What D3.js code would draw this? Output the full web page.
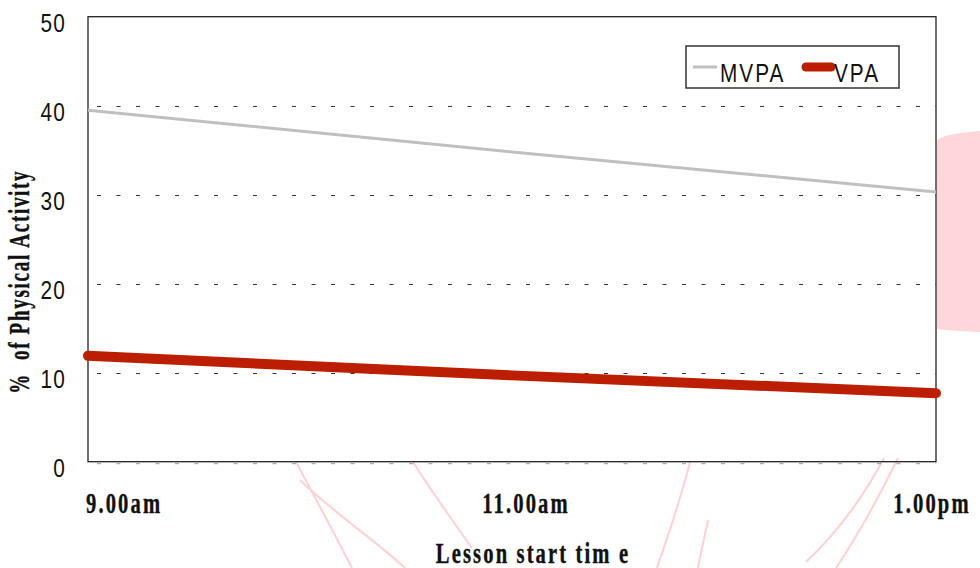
<!DOCTYPE html>
<html>
<head>
<meta charset="utf-8">
<script src="https://cdn.jsdelivr.net/npm/d3@7"></script>
<style>
  html, body { margin: 0; padding: 0; background: #ffffff; }
  svg { display: block; }
  text { white-space: pre; }
</style>
</head>
<body>
<svg id="chart" width="980" height="568"></svg>
<script>
// ---- data ----
const categories = ["9.00am", "11.00am", "1.00pm"];
const mvpaValues = [39.5, 34.8, 30.3];
const vpaValues = [11.9, 9.7, 7.7];
const yTicks = [0, 10, 20, 30, 40, 50];
const seriesNames = ["MVPA", "VPA"];
const xTitle = "Lesson start tim e";
const yTitle = "%  of Physical Activity";

const svg = d3.select("#chart");
const plot = { left: 88, right: 936, top: 16.7, bottom: 461.7 };
const SANS = "'Liberation Sans', Arial, sans-serif";
const SERIF = "'Liberation Serif', 'Times New Roman', serif";

// faint pink background watermark (decoration)
svg.append("path")
  .attr("d", "M937,140 L945,136 L960,133 L980,131 L980,332 L960,331 L945,330 L937,329 Z")
  .attr("fill", "#ffd6d9");
const deco = svg.append("g").attr("fill", "none").attr("stroke", "#ffd0d4");
[
  "M296,462 C312,492 330,525 352,568",
  "M300,480 C330,510 375,540 405,568",
  "M413,462 C432,492 452,520 472,548",
  "M690,462 C682,495 670,530 657,568",
  "M708,520 C704,540 700,555 698,568",
  "M884,458 C866,492 840,530 806,562",
  "M898,458 C880,495 858,535 836,568"
].forEach(d => deco.append("path").attr("d", d).attr("stroke-width", 2));

// scales
const x = d3.scalePoint().domain(categories).range([plot.left, plot.right]);
const y = d3.scaleLinear().domain([0, 50]).range([plot.bottom, plot.top]);

// gridlines (dotted)
svg.append("g").selectAll("line").data(yTicks.filter(t => t > 0 && t < 50)).join("line")
  .attr("x1", plot.left + 9).attr("x2", plot.right)
  .attr("y1", d => Math.round(y(d)) + 0.5).attr("y2", d => Math.round(y(d)) + 0.5)
  .attr("stroke", "#333").attr("stroke-width", 1.2)
  .attr("stroke-dasharray", "4 15.5");
svg.append("line")
  .attr("x1", plot.left + 9).attr("x2", plot.right)
  .attr("y1", y(0) + 2).attr("y2", y(0) + 2)
  .attr("stroke", "#999").attr("stroke-width", 1)
  .attr("stroke-dasharray", "4 15.5");

// frame
svg.append("rect")
  .attr("x", plot.left).attr("y", plot.top)
  .attr("width", plot.right - plot.left).attr("height", plot.bottom - plot.top)
  .attr("fill", "none").attr("stroke", "#222").attr("stroke-width", 1.3);

// y axis via d3 axis (condensed sans)
const ys = 0.8;
const yAxis = svg.append("g").attr("transform", `translate(${plot.left - 22},0)`)
  .call(d3.axisLeft(y).tickValues(yTicks).tickSize(0).tickPadding(0));
yAxis.select(".domain").remove();
yAxis.selectAll("text")
  .attr("x", 0).attr("dy", "0.57em")
  .attr("transform", `scale(${ys},1)`)
  .attr("font-family", SANS)
  .attr("font-size", 26).attr("letter-spacing", "1.5px").attr("fill", "#111");

// x axis labels (bold condensed serif)
const sx = 0.71;
const xLabelOffsets = [{ dx: -2, anchor: "start" }, { dx: 14, anchor: "middle" }, { dx: -4, anchor: "middle" }];
svg.append("g").selectAll("text").data(categories).join("text")
  .attr("transform", (d, i) => `translate(${x(d) + xLabelOffsets[i].dx},512.5) scale(${sx},1)`)
  .attr("text-anchor", (d, i) => xLabelOffsets[i].anchor)
  .attr("font-family", SERIF)
  .attr("font-weight", "bold").attr("font-size", 29).attr("letter-spacing", "3px")
  .attr("fill", "#111").attr("stroke", "#111").attr("stroke-width", 0.4)
  .text(d => d);

// axis titles
svg.append("text")
  .attr("transform", `translate(${x(categories[1]) + 21},563) scale(${sx},1)`)
  .attr("text-anchor", "middle")
  .attr("font-family", SERIF)
  .attr("font-weight", "bold").attr("font-size", 29).attr("letter-spacing", "3px")
  .attr("fill", "#111").attr("stroke", "#111").attr("stroke-width", 0.4)
  .text(xTitle);
svg.append("text")
  .attr("transform", `translate(29,${y(20) - 2}) rotate(-90) scale(0.67,1)`)
  .attr("text-anchor", "middle")
  .attr("font-family", SERIF)
  .attr("font-weight", "bold").attr("font-size", 28.5).attr("letter-spacing", "2.5px")
  .attr("fill", "#111").attr("stroke", "#111").attr("stroke-width", 0.4)
  .text(yTitle);

// lines
const line = d3.line().x((d, i) => x(categories[i])).y(d => y(d));
svg.append("path").datum(mvpaValues)
  .attr("d", line).attr("fill", "none")
  .attr("stroke", "#c0c0c0").attr("stroke-width", 3);
svg.append("path").datum(vpaValues)
  .attr("d", line).attr("fill", "none")
  .attr("stroke", "#bb1e00").attr("stroke-width", 10)
  .attr("stroke-linecap", "round").attr("stroke-linejoin", "round");

// legend
const lg = svg.append("g");
lg.append("rect").attr("x", 686).attr("y", 46).attr("width", 213).attr("height", 42)
  .attr("fill", "#fff").attr("stroke", "#333").attr("stroke-width", 1.5);
const legendItems = [
  { name: seriesNames[0], color: "#c0c0c0", w: 3, x1: 693, x2: 717, tx: 720, cap: "butt" },
  { name: seriesNames[1], color: "#bb1e00", w: 9, x1: 806, x2: 831, tx: 834, cap: "round" }
];
legendItems.forEach(it => {
  lg.append("line").attr("x1", it.x1).attr("x2", it.x2).attr("y1", 67).attr("y2", 67)
    .attr("stroke", it.color).attr("stroke-width", it.w).attr("stroke-linecap", it.cap);
  lg.append("text").attr("transform", `translate(${it.tx},81.5) scale(0.8,1)`)
    .attr("font-family", SANS)
    .attr("font-size", 26).attr("letter-spacing", "2.5px").attr("fill", "#111")
    .text(it.name);
});
</script>
</body>
</html>
